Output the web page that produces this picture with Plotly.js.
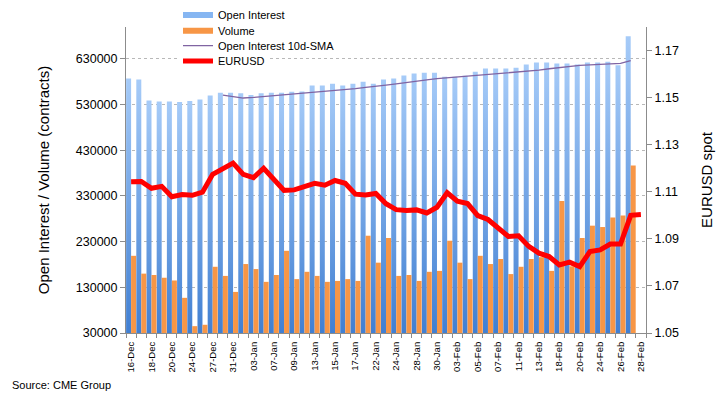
<!DOCTYPE html>
<html>
<head>
<meta charset="utf-8">
<script src="https://cdn.plot.ly/plotly-3.0.1.min.js"></script>
<style>
  html, body { margin: 0; padding: 0; background: #fff; }
  #chart { width: 723px; height: 401px; }
</style>
</head>
<body>
<svg width="0" height="0" style="position:absolute">
  <defs>
    <linearGradient id="oiGradient" x1="0" y1="0" x2="0" y2="1">
      <stop offset="0" stop-color="#a6cbf8"/>
      <stop offset="1" stop-color="#3b7bd0"/>
    </linearGradient>
  </defs>
</svg>
<div id="chart"></div>
<script>
const dates = ['16-Dec', '17-Dec', '18-Dec', '19-Dec', '20-Dec', '23-Dec', '24-Dec', '26-Dec', '27-Dec', '30-Dec', '31-Dec',
  '02-Jan', '03-Jan', '06-Jan', '07-Jan', '08-Jan', '09-Jan', '10-Jan', '13-Jan', '14-Jan', '15-Jan', '16-Jan', '17-Jan',
  '21-Jan', '22-Jan', '23-Jan', '24-Jan', '27-Jan', '28-Jan', '29-Jan', '30-Jan', '31-Jan',
  '03-Feb', '04-Feb', '05-Feb', '06-Feb', '07-Feb', '10-Feb', '11-Feb', '12-Feb', '13-Feb', '14-Feb',
  '18-Feb', '19-Feb', '20-Feb', '21-Feb', '24-Feb', '25-Feb', '26-Feb', '27-Feb', '28-Feb'];

const openInterest = [587000, 585000, 539000, 537000, 537000, 536000, 538000, 541000, 550000, 556000, 556000,
  555000, 551000, 555000, 556000, 556000, 558000, 559000, 572000, 572000, 576000, 572000, 576000,
  580000, 576000, 585000, 587000, 594000, 598000, 600000, 600000, 591000,
  591000, 593000, 602000, 609000, 609000, 609000, 611000, 618000, 622000, 622000,
  620000, 620000, 618000, 622000, 622000, 624000, 616000, 680000, null];

const volume = [199000, 160000, 157000, 151000, 145000, 107000, 45000, 48000, 175000, 155000, 120000,
  181000, 170000, 142000, 157000, 210000, 148000, 164000, 155000, 142000, 144000, 148000, 144000,
  243000, 184000, 238000, 155000, 157000, 144000, 164000, 166000, 232000,
  184000, 148000, 199000, 181000, 192000, 159000, 175000, 192000, 196000, 166000,
  319000, 176000, 238000, 265000, 262000, 283000, 287000, 397000, null];

const oiSma10 = [null, null, null, null, null, null, null, null, null, 550600, 547500,
  544500, 545700, 547500, 549400, 551400, 553400, 555200, 557400, 559000, 561000, 562700, 565200,
  567700, 569700, 572600, 575500, 579000, 581600, 584400, 586800, 588700,
  590200, 591500, 594100, 596500, 598700, 600200, 601500, 603300, 605500, 608600,
  611500, 614200, 615800, 617100, 618400, 619900, 620400, 626600, null];

const eurusd = [1.1143, 1.1144, 1.1115, 1.1123, 1.1079, 1.1088, 1.1085, 1.1098, 1.1174, 1.1198, 1.1222,
  1.1174, 1.1160, 1.1200, 1.1153, 1.1106, 1.1108, 1.1123, 1.1136, 1.1128, 1.1148, 1.1136, 1.1090,
  1.1086, 1.1093, 1.1049, 1.1024, 1.1020, 1.1023, 1.1010, 1.1034, 1.1096,
  1.1060, 1.1050, 1.0999, 1.0982, 1.0943, 1.0910, 1.0913, 1.0868, 1.0839, 1.0825,
  1.0789, 1.0801, 1.0782, 1.0846, 1.0853, 1.0878, 1.0878, 1.1000, 1.1003];

const font = 'Liberation Sans, Arial, Helvetica, sans-serif';
const axisGrey = '#8c8c8c';
const x = dates.map((_, index) => index);
const labelIndex = x.filter((index) => index % 2 === 0);

function legendAt(y, bgcolor) {
  return {
    x: 0.1, xanchor: 'left', y, yanchor: 'middle',
    bgcolor: bgcolor || 'rgba(0,0,0,0)', borderwidth: 0,
    font: { family: font, size: 11, color: '#000' },
  };
}

const traces = [
  {
    type: 'bar', name: 'Open Interest', x, y: openInterest,
    marker: { color: '#74a8ec' }, showlegend: false,
    hovertemplate: '%{customdata}<br>OI: %{y:,}<extra></extra>', customdata: dates,
  },
  {
    type: 'bar', name: 'Volume', x, y: volume,
    marker: { color: '#f79646' }, showlegend: false,
    hovertemplate: '%{customdata}<br>Volume: %{y:,}<extra></extra>', customdata: dates,
  },
  {
    type: 'scatter', mode: 'lines', name: 'EURUSD', x, y: eurusd, yaxis: 'y2',
    line: { color: '#ff0000', width: 5, shape: 'linear' }, legend: 'legend3',
  },
  {
    type: 'scatter', mode: 'lines', name: 'Open Interest 10d-SMA', x, y: oiSma10,
    line: { color: '#8064a2', width: 1.3 }, legend: 'legend4',
  },
  // legend swatches for the bar series (wide flat bars like the original)
  {
    type: 'scatter', mode: 'lines', name: 'Open Interest', x: [null], y: [null],
    line: { color: '#86b6f2', width: 6 }, legend: 'legend', hoverinfo: 'skip',
  },
  {
    type: 'scatter', mode: 'lines', name: 'Volume', x: [null], y: [null],
    line: { color: '#f79646', width: 6 }, legend: 'legend2', hoverinfo: 'skip',
  },
];

const layout = {
  width: 723,
  height: 401,
  margin: { l: 126, r: 77, t: 27, b: 68, pad: 0, autoexpand: false },
  paper_bgcolor: '#fff',
  plot_bgcolor: '#fff',
  font: { family: font, size: 12, color: '#000' },
  barmode: 'group',
  bargap: 0.02,
  bargroupgap: 0,
  showlegend: true,
  legend: legendAt(1.039),
  legend2: legendAt(0.988),
  legend3: legendAt(0.889, '#fff'),
  legend4: legendAt(0.939),
  xaxis: {
    type: 'linear',
    range: [-0.5, 50.5],
    tickmode: 'array',
    tickvals: labelIndex,
    ticktext: labelIndex.map((index) => dates[index]),
    tickangle: -90,
    tickfont: { family: font, size: 9.5, color: '#000' },
    ticks: 'outside', ticklen: 4, tickcolor: 'rgba(0,0,0,0)',
    minor: { tickmode: 'linear', tick0: -0.5, dtick: 1, ticks: 'outside', ticklen: 4, tickcolor: axisGrey, tickwidth: 1, showgrid: false },
    showline: true, linecolor: axisGrey, linewidth: 1,
    showgrid: false, zeroline: false, fixedrange: true,
  },
  yaxis: {
    range: [30000, 700000],
    tickmode: 'linear', tick0: 30000, dtick: 100000,
    tickformat: 'd',
    tickfont: { family: font, size: 12.5, color: '#000' },
    ticks: 'outside', ticklen: 5, tickcolor: axisGrey,
    showline: true, linecolor: axisGrey, linewidth: 1,
    showgrid: true, gridcolor: '#b8b8b8', gridwidth: 1, griddash: 'dot',
    zeroline: false, automargin: false, fixedrange: true,
    title: { text: 'Open Interest / Volume (contracts)', font: { family: font, size: 15, color: '#000' }, standoff: 22 },
  },
  yaxis2: {
    overlaying: 'y', side: 'right',
    range: [1.05, 1.18],
    tickmode: 'linear', tick0: 1.05, dtick: 0.02,
    tickformat: '.2f',
    tickfont: { family: font, size: 12.5, color: '#000' },
    ticks: 'outside', ticklen: 5, tickcolor: axisGrey,
    showline: true, linecolor: axisGrey, linewidth: 1,
    showgrid: false, zeroline: false, automargin: false, fixedrange: true,
    title: { text: 'EURUSD spot', font: { family: font, size: 15, color: '#000' }, standoff: 23 },
  },
  annotations: [{
    text: 'Source: CME Group', xref: 'paper', yref: 'paper',
    x: -0.223, y: -0.17, xanchor: 'left', yanchor: 'middle',
    showarrow: false, font: { family: font, size: 11, color: '#000' },
  }],
};

// Excel-style vertical gradient on the open-interest bars
function paintOpenInterest() {
  const barTraces = document.querySelectorAll('#chart .barlayer .trace.bars');
  if (!barTraces.length) return;
  barTraces[0].querySelectorAll('path').forEach((path) => {
    path.style.fill = 'url(#oiGradient)';
  });
}

Plotly.newPlot('chart', traces, layout, { displayModeBar: false }).then((gd) => {
  paintOpenInterest();
  gd.on('plotly_afterplot', paintOpenInterest);
});
</script>
</body>
</html>
